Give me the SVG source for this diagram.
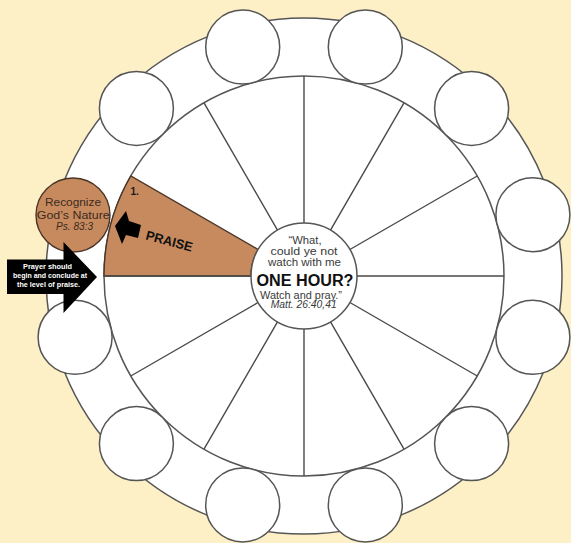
<svg xmlns="http://www.w3.org/2000/svg" width="571" height="543" viewBox="0 0 571 543">
<style>
.ln{stroke:#4a4a4a;stroke-width:1.4;fill:none}
.wc{fill:#ffffff;stroke:#555555;stroke-width:1.5}
.bc{fill:#c78a5e;stroke:#4a3528;stroke-width:1.4}
.t{font-family:"Liberation Sans",Arial,sans-serif;text-anchor:middle}
.ct{font-size:10px;fill:#3a3a3a}
.wt{font-size:6.8px;font-weight:bold;fill:#ffffff}
.nt{font-size:10px;fill:#3b2a1e}
</style>
<rect x="0" y="0" width="571" height="543" fill="#fdf0c6"/>
<g id="wheel">
<circle cx="304" cy="276" r="258" class="wc"/>
<circle cx="304" cy="276" r="200" class="wc"/>
</g>
<g id="segment-praise">
<path d="M130.8,176 A200,200 0 0 0 104,276 L251,276 A53,53 0 0 1 258.1,249.5 Z" class="bc"/>
<text x="130.5" y="195" font-family="Liberation Sans,Arial,sans-serif" font-size="10" font-weight="bold" fill="#1a1a1a">1.</text>
<polygon id="small-arrow" points="115,226 126,211 129,221 141,225 138,238 126,235 122,244" fill="#000000"/>
<text x="145" y="239.3" transform="rotate(15 145 239.3)" font-family="Liberation Sans,Arial,sans-serif" font-size="13" font-weight="bold" fill="#111111" textLength="48" lengthAdjust="spacingAndGlyphs">PRAISE</text>
</g>
<g id="connectors">
<path class="ln" d="M357,276L504,276M349.9,249.5L477.2,176M330.5,230.1L404,102.8M304,223L304,76M277.5,230.1L204,102.8M251,276L104,276M258.1,302.5L130.8,376M277.5,321.9L204,449.2M304,329L304,476M330.5,321.9L404,449.2M349.9,302.5L477.2,376"/>
</g>
<g id="center">
<circle cx="304" cy="276" r="53" class="wc"/>
<text class="t ct" x="305" y="244" textLength="33" lengthAdjust="spacingAndGlyphs">“What,</text>
<text class="t ct" x="304" y="255" textLength="67" lengthAdjust="spacingAndGlyphs">could ye not</text>
<text class="t ct" x="304.5" y="266" textLength="73" lengthAdjust="spacingAndGlyphs">watch with me</text>
<text class="t" x="305" y="286" font-size="16" font-weight="bold" fill="#111111" textLength="97" lengthAdjust="spacingAndGlyphs">ONE HOUR?</text>
<text class="t ct" x="301" y="298.5" textLength="82" lengthAdjust="spacingAndGlyphs">Watch and pray.”</text>
<text class="t ct" x="303.7" y="308.3" font-style="italic" font-size="9" textLength="66" lengthAdjust="spacingAndGlyphs">Matt. 26:40,41</text>
</g>
<g id="c1"><circle cx="532.9" cy="214.7" r="37" class="wc"/></g>
<g id="c2"><circle cx="471.6" cy="108.4" r="37" class="wc"/></g>
<g id="c3"><circle cx="365.3" cy="47.1" r="37" class="wc"/></g>
<g id="c4"><circle cx="242.7" cy="47.1" r="37" class="wc"/></g>
<g id="c5"><circle cx="136.4" cy="108.4" r="37" class="wc"/></g>
<g id="c6">
<circle cx="73" cy="215" r="37" class="bc"/>
<text class="t nt" x="73" y="205.7" textLength="56" lengthAdjust="spacingAndGlyphs">Recognize</text>
<text class="t nt" x="73.3" y="219" textLength="73" lengthAdjust="spacingAndGlyphs">God’s Nature</text>
<text class="t nt" x="74.6" y="230" font-size="8.5" font-style="italic" textLength="37" lengthAdjust="spacingAndGlyphs">Ps. 83:3</text>
</g>
<g id="c7"><circle cx="75.1" cy="337.3" r="37" class="wc"/></g>
<g id="c8"><circle cx="136.4" cy="443.6" r="37" class="wc"/></g>
<g id="c9"><circle cx="242.7" cy="504.9" r="37" class="wc"/></g>
<g id="c10"><circle cx="365.3" cy="504.9" r="37" class="wc"/></g>
<g id="c11"><circle cx="471.6" cy="443.6" r="37" class="wc"/></g>
<g id="c12"><circle cx="532.9" cy="337.3" r="37" class="wc"/></g>
<g id="note-arrow">
<polygon points="7,259.5 63.5,259.5 63.5,242 97,277 63.5,313 63.5,294 7,294" fill="#000000"/>
<text class="t wt" x="47.5" y="269" textLength="49" lengthAdjust="spacingAndGlyphs">Prayer should</text>
<text class="t wt" x="50" y="278" textLength="74" lengthAdjust="spacingAndGlyphs">begin and conclude at</text>
<text class="t wt" x="48.5" y="286.7" textLength="63" lengthAdjust="spacingAndGlyphs">the level of praise.</text>
</g>
</svg>
